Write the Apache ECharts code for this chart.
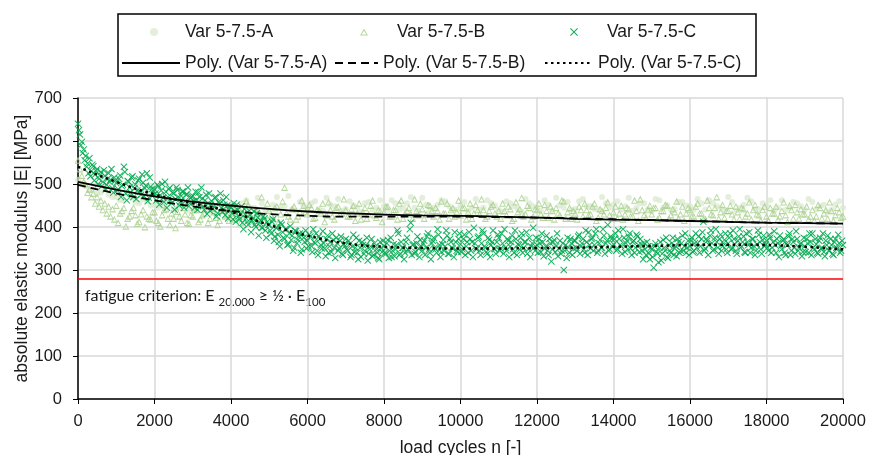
<!DOCTYPE html>
<html>
<head>
<meta charset="utf-8">
<title>absolute elastic modulus</title>
<script src="https://cdn.jsdelivr.net/npm/echarts@6/dist/echarts.min.js"></script>
<style>
  html,body{margin:0;padding:0;background:#fff;}
  #main{width:869px;height:455px;}
</style>
</head>
<body>
<div id="main"></div>
<script>
// scatter values, x = offset + index * step (load cycles)
var stepA = 200;
var varA = [
  510, 495, 488, 480, 475, 470, 462, 468, 455, 460,
  452, 448, 458, 445, 450, 440, 455, 442, 448, 438,
  450, 440, 462, 445, 455, 438, 470, 448, 442, 458,
  445, 460, 438, 452, 465, 442, 450, 435, 458, 445,
  448, 462, 440, 455, 445, 468, 438, 452, 460, 442,
  450, 438, 465, 445, 455, 440, 460, 448, 435, 455,
  445, 462, 438, 450, 458, 442, 465, 448, 440, 455,
  452, 440, 468, 445, 455, 438, 462, 450, 442, 458,
  448, 465, 440, 455, 445, 470, 438, 452, 460, 442,
  450, 438, 462, 445, 455, 440, 458, 448, 435, 452,
  445
];
var varA2 = [
  500, 485, 478, 490, 470, 462, 475, 458, 465, 450,
  445, 460, 440, 452, 438, 462, 445, 435, 455, 442,
  438, 455, 445, 468, 440, 452, 445, 472, 438, 450,
  455, 442, 468, 448, 438, 460, 445, 455, 440, 462,
  440, 455, 445, 470, 438, 452, 445, 462, 448, 440,
  458, 445, 440, 462, 450, 435, 455, 442, 465, 448,
  438, 452, 468, 445, 440, 460, 448, 442, 470, 445,
  460, 448, 438, 455, 442, 465, 445, 440, 458, 450,
  440, 455, 462, 448, 438, 458, 445, 468, 442, 455,
  462, 445, 440, 458, 448, 465, 442, 452, 440, 460
];
var stepB = 100;
var varB = [
  555, 520, 500, 488, 478, 470, 462, 455, 448, 442,
  450, 432, 445, 420, 438, 428, 412, 440, 425, 418,
  435, 410, 428, 442, 405, 420, 436, 415, 430, 408,
  425, 440, 418, 432, 410, 445, 422, 415, 438, 428,
  432, 418, 445, 425, 460, 430, 415, 440, 470, 428,
  438, 420, 448, 430, 492, 425, 442, 418, 435, 450,
  430, 445, 422, 438, 455, 428, 440, 418, 448, 432,
  440, 425, 450, 432, 418, 445, 430, 462, 422, 438,
  435, 448, 425, 440, 455, 420, 438, 430, 465, 428,
  442, 430, 450, 425, 438, 460, 432, 420, 445, 435,
  428, 445, 435, 420, 452, 430, 440, 425, 448, 432,
  438, 455, 428, 442, 420, 435, 468, 430, 445, 425,
  440, 430, 452, 422, 438, 445, 428, 460, 435, 420,
  432, 448, 425, 440, 430, 455, 422, 438, 445, 428,
  435, 420, 450, 430, 442, 425, 438, 465, 428, 440,
  430, 445, 422, 438, 450, 428, 435, 420, 448, 432,
  440, 425, 455, 432, 418, 445, 428, 470, 435, 422,
  438, 430, 448, 420, 442, 432, 418, 452, 428, 440,
  425, 445, 432, 418, 438, 428, 450, 420, 435, 442,
  430, 418, 440, 425, 445, 432, 420, 438, 428, 435,
  425
];
var varB2 = [
  535, 505, 480, 470, 455, 448, 440, 432, 425, 418,
  410, 438, 402, 425, 445, 408, 430, 400, 420, 435,
  415, 402, 440, 420, 432, 398, 425, 445, 410, 428,
  440, 412, 428, 450, 420, 435, 405, 442, 425, 415,
  448, 425, 410, 438, 452, 420, 442, 430, 415, 455,
  428, 445, 412, 460, 432, 418, 448, 425, 462, 435,
  452, 420, 440, 432, 412, 458, 425, 445, 430, 465,
  425, 442, 415, 455, 435, 420, 450, 428, 440, 412,
  448, 425, 440, 418, 462, 432, 445, 420, 438, 455,
  420, 452, 438, 445, 418, 432, 455, 440, 425, 462,
  445, 418, 455, 432, 440, 465, 420, 438, 452, 425,
  420, 438, 448, 415, 458, 442, 425, 450, 418, 442,
  455, 422, 438, 448, 418, 432, 462, 420, 445, 438,
  418, 440, 455, 428, 448, 415, 442, 430, 458, 420,
  448, 432, 418, 445, 425, 462, 415, 440, 422, 450,
  445, 418, 438, 452, 420, 442, 460, 430, 415, 445,
  425, 448, 432, 418, 462, 430, 445, 420, 452, 438,
  450, 418, 435, 445, 425, 458, 440, 430, 415, 448,
  415, 432, 448, 425, 458, 412, 440, 452, 420, 430,
  448, 425, 415, 452, 420, 440, 458, 415, 445, 422
];
var stepC = 50;
var varC = [
  640, 615, 598, 580, 565, 548, 560, 530, 541, 522, 535, 512, 528, 505, 519, 498, 525, 510, 490, 515,
  502, 488, 520, 495, 540, 478, 507, 492, 515, 470, 499, 485, 512, 475, 503, 490, 525, 468, 494, 481,
  488, 462, 495, 474, 500, 458, 482, 470, 491, 455, 478, 465, 486, 450, 472, 483, 460, 476, 448, 468,
  472, 445, 463, 480, 452, 466, 440, 475, 455, 438, 460, 448, 470, 432, 455, 444, 462, 428, 450, 440,
  445, 418, 437, 452, 425, 430, 410, 442, 420, 405, 428, 415, 436, 400, 422, 410, 398, 425, 392, 412,
  405, 385, 418, 378, 398, 365, 410, 388, 372, 395, 360, 402, 380, 352, 390, 370, 385, 348, 375, 392,
  368, 382, 355, 395, 362, 345, 378, 358, 390, 350, 372, 340, 365, 385, 352, 375, 345, 368, 338, 360,
  372, 345, 360, 335, 382, 352, 340, 368, 330, 358, 345, 375, 338, 355, 332, 362, 348, 328, 365, 342,
  355, 338, 370, 345, 330, 360, 348, 392, 335, 365, 352, 340, 375, 345, 410, 358, 338, 362, 350, 370,
  345, 368, 352, 385, 340, 362, 375, 348, 395, 358, 342, 370, 355, 380, 338, 365, 350, 388, 345, 372,
  360, 348, 382, 355, 340, 372, 365, 398, 350, 375, 345, 362, 385, 352, 338, 370, 358, 392, 348, 365,
  375, 350, 362, 395, 345, 368, 355, 380, 340, 372, 360, 348, 385, 352, 365, 338, 375, 355, 398, 345,
  358, 372, 342, 365, 350, 380, 335, 362, 348, 370, 355, 332, 368, 345, 300, 358, 375, 340, 362, 350,
  368, 345, 382, 355, 372, 340, 365, 388, 350, 375, 358, 395, 345, 370, 352, 380, 362, 405, 348, 372,
  360, 385, 348, 372, 355, 395, 342, 368, 378, 350, 365, 340, 382, 358, 372, 345, 362, 335, 355, 325,
  348, 305, 362, 338, 352, 322, 370, 345, 330, 358, 340, 375, 350, 332, 365, 345, 380, 355, 340, 368,
  355, 375, 345, 385, 362, 340, 372, 412, 350, 368, 358, 392, 345, 375, 365, 338, 382, 355, 370, 348,
  362, 385, 350, 372, 345, 368, 395, 355, 378, 340, 365, 388, 352, 372, 335, 360, 382, 348, 370, 355,
  368, 345, 375, 352, 390, 340, 362, 380, 348, 372, 335, 358, 385, 345, 365, 338, 372, 352, 362, 342,
  355, 372, 340, 365, 385, 348, 360, 338, 375, 352, 342, 368, 380, 345, 358, 335, 372, 350, 362, 345,
  358
];
var varC2 = [
  625, 590, 572, 555, 540, 525, 518, 545, 508, 530, 500, 520, 495, 532, 488, 512, 505, 535, 480, 508,
  485, 512, 470, 498, 528, 462, 505, 480, 518, 490, 465, 508, 482, 522, 472, 496, 460, 515, 488, 475,
  478, 498, 452, 485, 468, 505, 445, 488, 462, 480, 440, 492, 470, 458, 482, 445, 475, 492, 455, 470,
  460, 482, 440, 470, 492, 448, 462, 430, 478, 452, 442, 468, 425, 458, 478, 435, 452, 470, 420, 448,
  432, 455, 412, 440, 418, 448, 395, 430, 412, 438, 388, 420, 405, 432, 380, 415, 398, 420, 375, 405,
  392, 412, 368, 398, 382, 355, 405, 375, 395, 358, 385, 370, 345, 392, 362, 378, 340, 385, 365, 350,
  355, 378, 342, 365, 385, 335, 372, 350, 362, 332, 380, 355, 342, 370, 328, 362, 350, 378, 335, 355,
  348, 368, 330, 355, 342, 375, 325, 352, 365, 338, 358, 322, 348, 372, 335, 355, 340, 325, 352, 368,
  340, 362, 328, 375, 345, 332, 358, 385, 338, 352, 325, 365, 348, 395, 335, 360, 342, 378, 330, 355,
  362, 335, 378, 348, 325, 368, 352, 340, 382, 330, 360, 345, 392, 338, 372, 352, 330, 365, 342, 385,
  342, 372, 335, 365, 388, 345, 330, 362, 348, 378, 335, 392, 355, 342, 375, 330, 365, 350, 338, 382,
  345, 385, 338, 352, 372, 330, 365, 348, 392, 335, 358, 375, 340, 365, 388, 348, 330, 362, 352, 375,
  340, 362, 385, 332, 355, 345, 372, 320, 365, 342, 385, 350, 338, 362, 345, 328, 352, 372, 335, 368,
  352, 378, 338, 362, 348, 392, 335, 358, 372, 345, 385, 340, 362, 352, 395, 338, 368, 345, 378, 355,
  372, 345, 392, 358, 338, 375, 362, 348, 385, 335, 368, 352, 378, 342, 360, 325, 348, 365, 338, 352,
  330, 355, 342, 318, 365, 338, 352, 375, 328, 345, 362, 335, 355, 372, 340, 362, 345, 385, 352, 335,
  368, 342, 362, 352, 378, 355, 388, 345, 372, 335, 380, 362, 348, 395, 352, 372, 345, 362, 385, 340,
  375, 348, 392, 360, 338, 378, 352, 365, 342, 385, 358, 340, 372, 355, 345, 392, 365, 338, 380, 360,
  352, 382, 340, 365, 358, 372, 330, 355, 368, 340, 362, 378, 335, 372, 352, 390, 345, 360, 332, 375,
  342, 362, 385, 335, 352, 372, 340, 368, 350, 385, 332, 358, 345, 372, 338, 365, 352, 382, 340, 368
];

// trend lines (read at every 1000 cycles)
var trendX = [0, 1000, 2000, 3000, 4000, 5000, 6000, 7000, 8000, 9000, 10000,
  11000, 12000, 13000, 14000, 15000, 16000, 17000, 18000, 19000, 20000];
var polyA = [505, 487, 471, 459, 450, 442, 436, 432, 429, 427, 426, 424, 422, 419, 417, 416, 414, 412, 410, 409, 408];
var polyB = [498, 478, 462, 448, 437, 430, 426, 424, 424, 424, 424, 423, 422, 420, 418, 416, 414, 412, 410, 409, 408];
var polyC = [540, 505, 476, 455, 435, 405, 380, 362, 354, 351, 350, 350, 351, 352, 354, 356, 358, 359, 358, 354, 348];

var criterion = 280;

function pts(vals, step, offset) {
  var out = [];
  for (var i = 0; i < vals.length; i++) out.push([offset + i * step, vals[i]]);
  return out;
}
function pairs(xs, ys) {
  var out = [];
  for (var i = 0; i < xs.length; i++) out.push([xs[i], ys[i]]);
  return out;
}

var xShape = 'path://M0,1L1,0L5,4L9,0L10,1L6,5L10,9L9,10L5,6L1,10L0,9L4,5Z';
var triShape = 'path://M5,0L10,9L0,9Z M5,3L2,7.5L8,7.5Z';
var font = '"Liberation Sans", Arial, sans-serif';
var names = ['Var 5-7.5-A', 'Var 5-7.5-B', 'Var 5-7.5-C',
  'Poly. (Var 5-7.5-A)', 'Poly. (Var 5-7.5-B)', 'Poly. (Var 5-7.5-C)'];

function leg(name, left, top, w, pad, hideSym) {
  var l = {
    data: [name], left: left, top: top, itemWidth: w, itemHeight: 8,
    padding: 0, selectedMode: false,
    textStyle: { fontFamily: font, fontSize: 17.5, color: '#1a1a1a', padding: [0, 0, 0, pad] }
  };
  if (hideSym) l.itemStyle = { opacity: 0 };
  return l;
}

var myChart = echarts.init(document.getElementById('main'));
var option = {
  animation: false,
  backgroundColor: '#fff',
  grid: { left: 78, right: 26, top: 98, bottom: 56, outerBoundsMode: 'none', containLabel: false },
  legend: [
    leg(names[0], 150, 23, 8, 22),
    leg(names[1], 360, 23, 8, 24),
    leg(names[2], 570, 23, 8, 24),
    leg(names[3], 121, 54, 58, 0, true),
    leg(names[4], 334, 54, 43, 0, true),
    leg(names[5], 544, 54, 48, 0, true)
  ],
  graphic: [
    { type: 'rect', shape: { x: 118, y: 14, width: 638, height: 62 },
      style: { fill: 'none', stroke: '#000', lineWidth: 1.5 }, silent: true },
    { type: 'text', x: 85, y: 288, silent: true,
      style: {
        text: '{m|fatigue criterion: E }{s|20.000}{m| \u2265 \u00bd \u00b7 E}{s|100}',
        rich: {
          m: { fontFamily: 'Lato, "Open Sans", sans-serif', fontSize: 16, lineHeight: 19, verticalAlign: 'top', fill: '#1a1a1a' },
          s: { fontFamily: 'Lato, "Open Sans", sans-serif', fontSize: 11.5, lineHeight: 12, padding: [8, 0, 0, 0], verticalAlign: 'top', fill: '#1a1a1a' }
        }
      } }
  ],
  xAxis: {
    type: 'value', min: 0, max: 20000, interval: 2000,
    name: 'load cycles n [-]', nameLocation: 'middle', nameGap: 40,
    nameTextStyle: { fontFamily: font, fontSize: 17.5, color: '#1a1a1a' },
    axisLine: { lineStyle: { color: '#000', width: 1.5 } },
    axisTick: { show: true, length: 5, lineStyle: { color: '#000' } },
    axisLabel: { fontFamily: font, fontSize: 16.5, color: '#1a1a1a', margin: 14,
      formatter: function (v) { return String(v); } },
    splitLine: { show: true, lineStyle: { color: '#d9d9d9', width: 1.5 } }
  },
  yAxis: {
    type: 'value', min: 0, max: 700, interval: 100,
    name: 'absolute elastic modulus |E| [MPa]', nameLocation: 'middle', nameGap: 47,
    nameMoveOverlap: false,
    nameTextStyle: { fontFamily: font, fontSize: 17.5, color: '#1a1a1a' },
    axisLine: { show: true, lineStyle: { color: '#000', width: 1.5 } },
    axisTick: { show: true, length: 5, lineStyle: { color: '#000' } },
    axisLabel: { fontFamily: font, fontSize: 16.5, color: '#1a1a1a', margin: 16 },
    splitLine: { show: true, lineStyle: { color: '#d9d9d9', width: 1.5 } }
  },
  series: [
    {
      name: names[0], type: 'scatter', data: pts(varA, stepA, 0).concat(pts(varA2, stepA, 100)),
      symbol: 'circle', symbolSize: 6,
      itemStyle: { color: '#d7e8cb', opacity: 0.7 }
    },
    {
      name: names[1], type: 'scatter', data: pts(varB, stepB, 0).concat(pts(varB2, stepB, 50)),
      symbol: triShape, symbolSize: 7,
      itemStyle: { color: '#a9d18e', opacity: 0.85 }
    },
    {
      name: names[2], type: 'scatter', data: pts(varC, stepC, 0).concat(pts(varC2, stepC, 25)),
      symbol: xShape, symbolSize: 7,
      itemStyle: { color: '#00a84f', opacity: 0.9 },
      markLine: {
        silent: true, symbol: 'none', label: { show: false },
        lineStyle: { color: '#ff0000', width: 1.5, type: 'solid' },
        data: [{ yAxis: criterion }]
      }
    },
    {
      name: names[3], type: 'line', data: pairs(trendX, polyA), smooth: true,
      symbol: 'none', lineStyle: { color: '#000', width: 1.8, type: 'solid' }
    },
    {
      name: names[4], type: 'line', data: pairs(trendX, polyB), smooth: true,
      symbol: 'none', lineStyle: { color: '#000', width: 1.8, type: [8, 5] }
    },
    {
      name: names[5], type: 'line', data: pairs(trendX, polyC), smooth: true,
      symbol: 'none', lineStyle: { color: '#000', width: 2.5, type: [2.5, 3.5] }
    }
  ]
};
myChart.setOption(option);
</script>
</body>
</html>
